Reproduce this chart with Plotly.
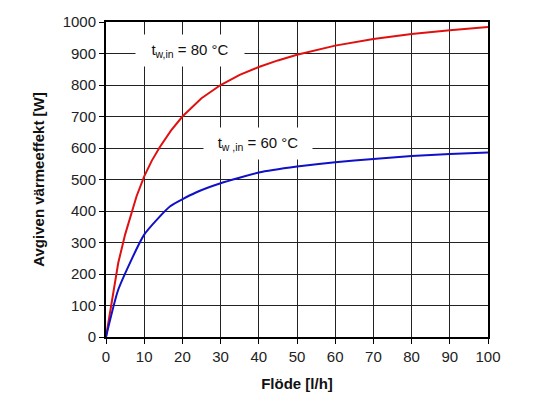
import plotly.graph_objects as go

# Data
flow_80 = [0, 3.2, 5, 6.5, 8, 10, 12, 14.1, 17, 20, 25, 30, 35, 40, 45, 50, 60, 70, 80, 90, 100]
power_80 = [0, 235, 325, 390, 447, 510, 560, 603, 655, 700, 758, 800, 832, 857, 878, 896, 925, 946, 962, 974, 984]

flow_60 = [0, 3.2, 10, 16.8, 23.4, 30, 40, 50, 60, 70, 80, 90, 100]
power_60 = [0, 150, 325, 415, 458, 488, 522, 541, 555, 565, 575, 581, 586]

x_title = "Flöde [l/h]"
y_title = "Avgiven värmeeffekt [W]"
label_80 = "t<sub>w,in</sub> = 80 °C"
label_60 = "t<sub>w ,in</sub> = 60 °C"

FONT = "Liberation Sans, Arial, sans-serif"

fig = go.Figure()
fig.add_trace(go.Scatter(x=flow_80, y=power_80, mode="lines",
                         line=dict(color="#e01010", width=2),
                         showlegend=False))
fig.add_trace(go.Scatter(x=flow_60, y=power_60, mode="lines",
                         line=dict(color="#1010c8", width=2, shape="spline", smoothing=0.5),
                         showlegend=False))

fig.add_annotation(x=22, y=908, text=label_80, showarrow=False,
                   bgcolor="white", width=96, borderpad=6,
                   font=dict(family=FONT, size=15, color="#111"))
fig.add_annotation(x=39.7, y=614, text=label_60, showarrow=False,
                   bgcolor="white", width=96, borderpad=6,
                   font=dict(family=FONT, size=15, color="#111"))

axis_common = dict(showline=True, linewidth=2, linecolor="black", mirror=True,
                   showgrid=True, gridcolor="#222", gridwidth=1,
                   ticks="outside", ticklen=5, tickcolor="black", tickwidth=1,
                   tickfont=dict(family=FONT, size=15, color="#222"),
                   zeroline=False)

fig.update_xaxes(range=[0, 100], dtick=10, tick0=0,
                 title=dict(text="<b>" + x_title + "</b>", standoff=14,
                            font=dict(family=FONT, size=15, color="#111")),
                 **axis_common)
fig.update_yaxes(range=[0, 1000], dtick=100, tick0=0,
                 title=dict(text="<b>" + y_title + "</b>", standoff=14,
                            font=dict(family=FONT, size=15, color="#111")),
                 **axis_common)

# page body adds an 8px margin, so the figure is sized/margined to compensate
fig.update_layout(width=548, height=401,
                  margin=dict(l=98, r=68, t=14, b=72, autoexpand=False),
                  plot_bgcolor="white", paper_bgcolor="white",
                  font=dict(family=FONT))

fig.write_html("out.html")
